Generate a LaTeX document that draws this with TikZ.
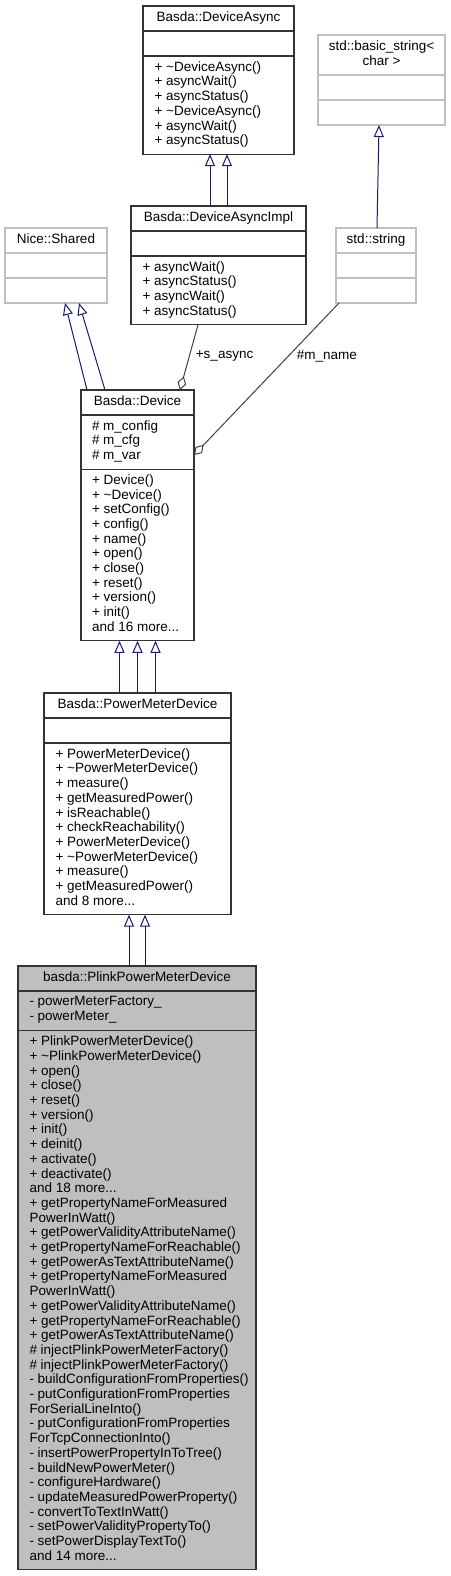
\documentclass[tikz,border=0pt]{standalone}
\usepackage{fontspec}
\setmainfont{Liberation Sans}
\usetikzlibrary{arrows.meta,positioning}
\newcommand{\umlfont}{\fontsize{13.5pt}{14.7pt}\selectfont}
\definecolor{inhblue}{RGB}{25,25,112}
\definecolor{boxgray}{RGB}{191,191,191}
\definecolor{linegray}{RGB}{64,64,64}

\begin{document}
\begin{tikzpicture}[
                                x = 1pt,
                                y = -1pt,
                                font = \umlfont,
                                line width = 1pt
                                ]

                                \useasboundingbox (0,0) rectangle (450,1576);

                                \tikzstyle{part}=[
                                        draw = black!80,
                                        line width = 1.2pt,
                                        rectangle,
                                        anchor = north west,
                                        inner sep = 0pt,
                                        outer sep = 0pt,
                                        minimum height = 25pt,
                                        align = center,
                                        execute at begin node = \strut,
                                        execute at end node = \strut
                                ]
                                \tikzstyle{extern}=[part, draw = boxgray]
                                \tikzstyle{current}=[part, fill = boxgray]
                                \tikzstyle{members}=[
                                        anchor = north west,
                                        inner sep = 0pt,
                                        align = left,
                                        execute at begin node = \strut
                                ]
                                \tikzstyle{inherit}=[
                                        draw = inhblue,
                                        -{Triangle[open, length = 12pt, width = 10pt]}
                                ]
                                \tikzstyle{usage}=[
                                        draw = linegray,
                                        -{Diamond[open, length = 14pt, width = 9pt]}
                                ]

                                \node[part, minimum width = 151pt] (asyncT) at (143,6) {Basda::DeviceAsync};
                                \node[part, minimum width = 151pt, below = 0pt of asyncT] (asyncA) {};
                                \node[part, minimum width = 151pt, minimum height = 98.2pt, below = 0pt of asyncA] (asyncM) {};
                                \node[members] (asyncL) at ([xshift = 11pt, yshift = -5pt]asyncM.north west)
                                        {+ \textasciitilde DeviceAsync()\\+ asyncWait()\\+ asyncStatus()\\+ \textasciitilde DeviceAsync()\\+ asyncWait()\\+ asyncStatus()};

                                \node[extern, minimum width = 127pt, minimum height = 40pt] (basicT) at (318,35) {std::basic\_string<\\char >};
                                \node[extern, minimum width = 127pt, below = 0pt of basicT] (basicA) {};
                                \node[extern, minimum width = 127pt, below = 0pt of basicA] (basicM) {};

                                \node[part, minimum width = 175pt] (implT) at (131,206) {Basda::DeviceAsyncImpl};
                                \node[part, minimum width = 175pt, below = 0pt of implT] (implA) {};
                                \node[part, minimum width = 175pt, minimum height = 68.8pt, below = 0pt of implA] (implM) {};
                                \node[members] (implL) at ([xshift = 11pt, yshift = -5pt]implM.north west)
                                        {+ asyncWait()\\+ asyncStatus()\\+ asyncWait()\\+ asyncStatus()};

                                \node[extern, minimum width = 102pt] (sharedT) at (5,228) {Nice::Shared};
                                \node[extern, minimum width = 102pt, below = 0pt of sharedT] (sharedA) {};
                                \node[extern, minimum width = 102pt, below = 0pt of sharedA] (sharedM) {};

                                \node[extern, minimum width = 80pt] (strT) at (336,228) {std::string};
                                \node[extern, minimum width = 80pt, below = 0pt of strT] (strA) {};
                                \node[extern, minimum width = 80pt, below = 0pt of strA] (strM) {};

                                \node[part, minimum width = 113pt] (devT) at (81,390) {Basda::Device};
                                \node[part, minimum width = 113pt, minimum height = 54.1pt, below = 0pt of devT] (devA) {};
                                \node[part, minimum width = 113pt, minimum height = 171.7pt, below = 0pt of devA] (devM) {};
                                \node[members] (devF) at ([xshift = 10.5pt, yshift = -5pt]devA.north west)
                                        {\# m\_config\\\# m\_cfg\\\# m\_var};
                                \node[members] (devL) at ([xshift = 10.5pt, yshift = -5pt]devM.north west)
                                        {+ Device()\\+ \textasciitilde Device()\\+ setConfig()\\+ config()\\+ name()\\+ open()\\+ close()\\+ reset()\\+ version()\\+ init()\\and 16 more...};

                                \node[part, minimum width = 187pt] (pmdT) at (44,693) {Basda::PowerMeterDevice};
                                \node[part, minimum width = 187pt, below = 0pt of pmdT] (pmdA) {};
                                \node[part, minimum width = 187pt, minimum height = 171.7pt, below = 0pt of pmdA] (pmdM) {};
                                \node[members] (pmdL) at ([xshift = 11pt, yshift = -5pt]pmdM.north west)
                                        {+ PowerMeterDevice()\\+ \textasciitilde PowerMeterDevice()\\+ measure()\\+ getMeasuredPower()\\+ isReachable()\\+ checkReachability()\\+ PowerMeterDevice()\\+ \textasciitilde PowerMeterDevice()\\+ measure()\\+ getMeasuredPower()\\and 8 more...};

                                \node[current, minimum width = 238pt] (plinkT) at (18,966) {basda::PlinkPowerMeterDevice};
                                \node[current, minimum width = 238pt, minimum height = 39.4pt, below = 0pt of plinkT] (plinkA) {};
                                \node[current, minimum width = 238pt, minimum height = 539.2pt, below = 0pt of plinkA] (plinkM) {};
                                \node[members] (plinkF) at ([xshift = 11pt, yshift = -5pt]plinkA.north west)
                                        {- powerMeterFactory\_\\- powerMeter\_};
                                \node[members] (plinkL) at ([xshift = 11pt, yshift = -5pt]plinkM.north west)
                                        {+ PlinkPowerMeterDevice()\\+ \textasciitilde PlinkPowerMeterDevice()\\+ open()\\+ close()\\+ reset()\\+ version()\\+ init()\\+ deinit()\\+ activate()\\+ deactivate()\\and 18 more...\\
                                        + getPropertyNameForMeasured\\PowerInWatt()\\+ getPowerValidityAttributeName()\\+ getPropertyNameForReachable()\\+ getPowerAsTextAttributeName()\\
                                        + getPropertyNameForMeasured\\PowerInWatt()\\+ getPowerValidityAttributeName()\\+ getPropertyNameForReachable()\\+ getPowerAsTextAttributeName()\\
                                        \# injectPlinkPowerMeterFactory()\\\# injectPlinkPowerMeterFactory()\\
                                        - buildConfigurationFromProperties()\\- putConfigurationFromProperties\\ForSerialLineInto()\\- putConfigurationFromProperties\\ForTcpConnectionInto()\\
                                        - insertPowerPropertyInToTree()\\- buildNewPowerMeter()\\- configureHardware()\\- updateMeasuredPowerProperty()\\- convertToTextInWatt()\\- setPowerValidityPropertyTo()\\- setPowerDisplayTextTo()\\and 14 more...};

                                \draw[inherit] ([xshift = -8.5pt]implT.north) -- ([xshift = -8.5pt]asyncM.south);
                                \draw[inherit] ([xshift = 8.5pt]implT.north) -- ([xshift = 8.5pt]asyncM.south);
                                \draw[inherit] ([xshift = 1pt]strT.north) -- ([xshift = -2.5pt]basicM.south);
                                \draw[inherit] ([xshift = -50.5pt]devT.north) -- ([xshift = 9pt]sharedM.south);
                                \draw[inherit] ([xshift = -32.5pt]devT.north) -- ([xshift = 23pt]sharedM.south);
                                \foreach \dx in {-18,0,18}
                                        \draw[inherit] ([xshift = \dx pt]pmdT.north) -- ([xshift = \dx pt]devM.south);
                                \draw[inherit] ([xshift = -8pt]plinkT.north) -- ([xshift = -8.5pt]pmdM.south);
                                \draw[inherit] ([xshift = 8pt]plinkT.north) -- ([xshift = 7.5pt]pmdM.south);

                                \draw[usage] ([xshift = -20.5pt]implM.south) -- ([xshift = 42.5pt]devT.north)
                                        node[pos = 0.48, anchor = west, xshift = 6pt, inner sep = 0pt] (sasync) {+s\_async};
                                \draw[usage] ([xshift = 3pt]strM.south west) -- ([yshift = -40pt]devA.north east)
                                        node[pos = 0.35, anchor = west, xshift = 8pt, inner sep = 0pt] (mname) {\#m\_name};
\end{tikzpicture}
\end{document}
